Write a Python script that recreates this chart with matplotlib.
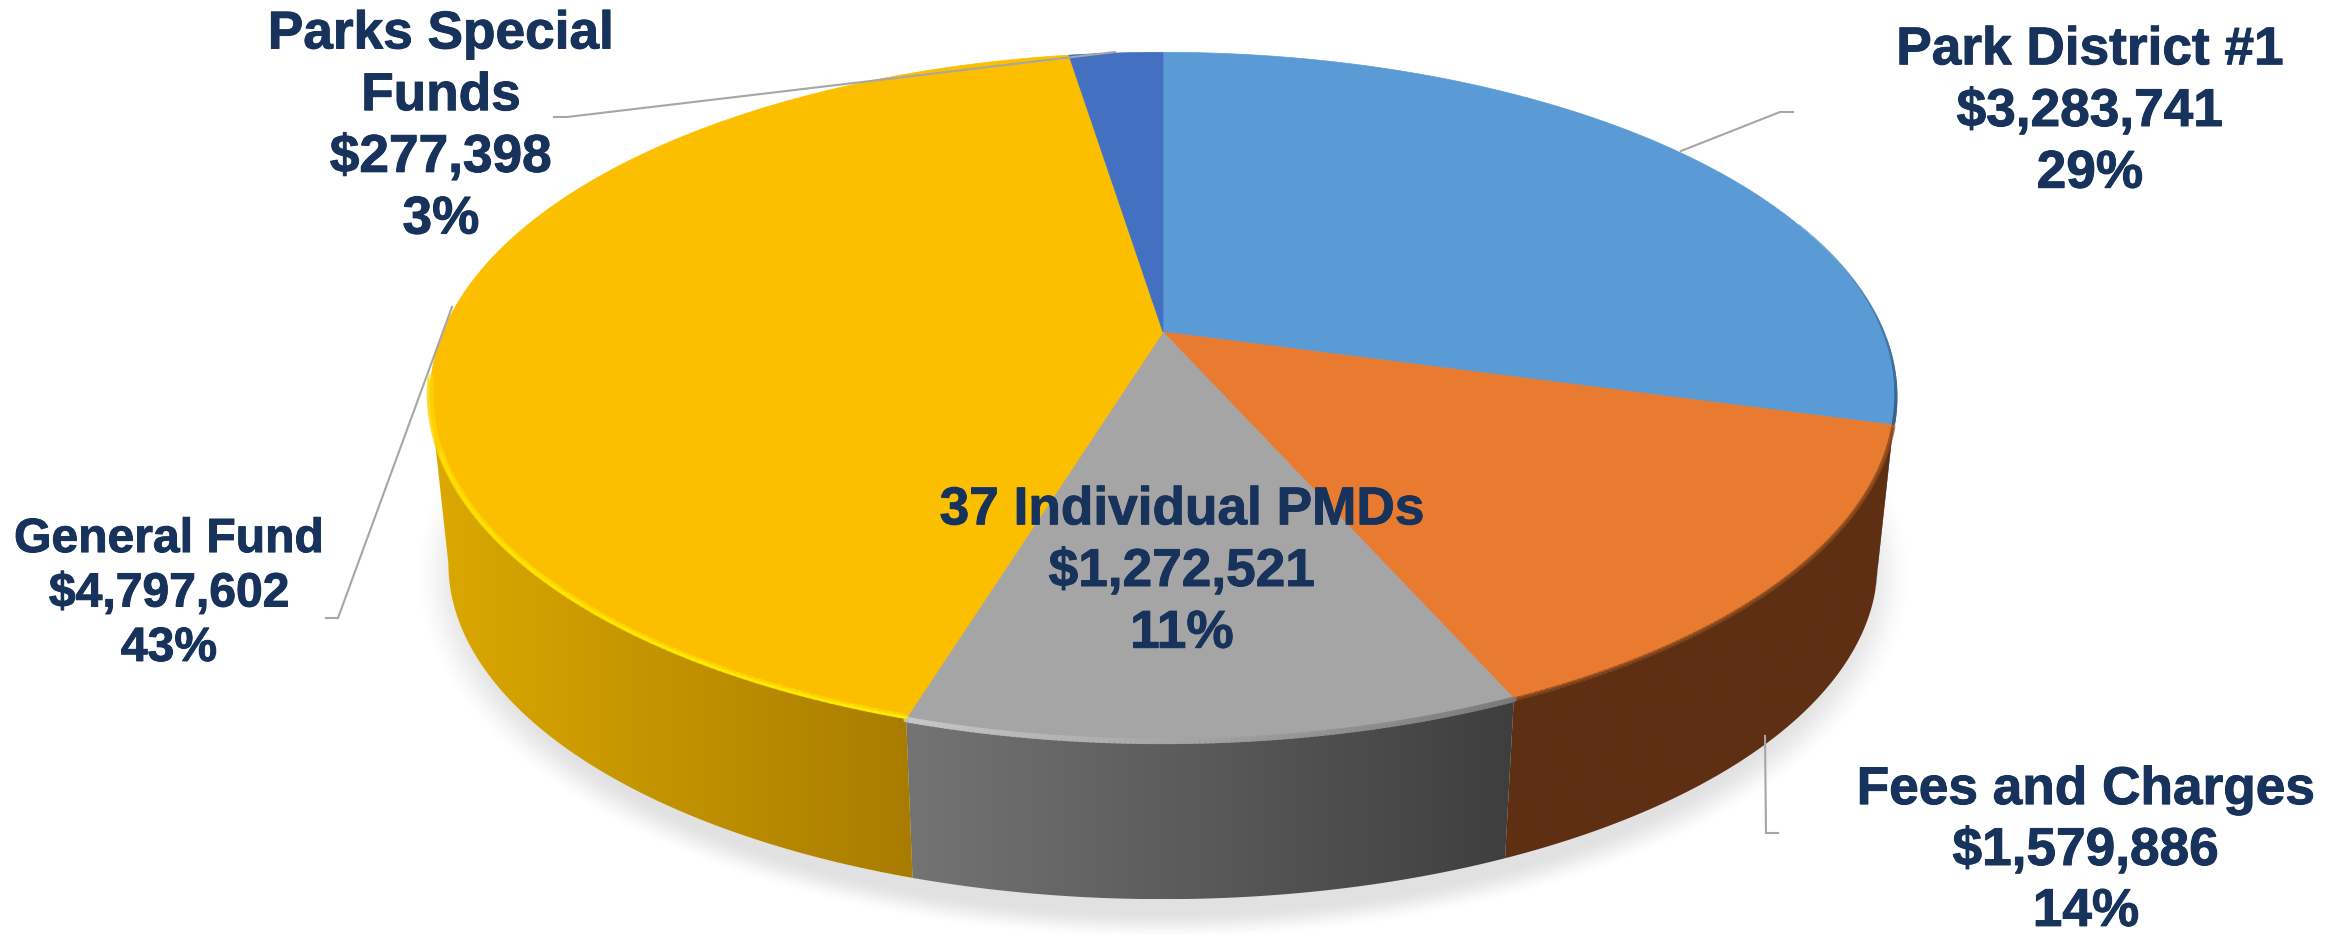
import numpy as np
import matplotlib
matplotlib.use('Agg')
import matplotlib.pyplot as plt
import matplotlib.patheffects as pe
from matplotlib.patches import Polygon
from matplotlib.collections import LineCollection
from matplotlib.colors import to_rgb

# values go clockwise from 12 o'clock
names = ['Park District #1', 'Fees and Charges', '37 Individual PMDs', 'General Fund', 'Parks Special\nFunds']
amounts = [3283741, 1579886, 1272521, 4797602, 277398]
amount_text = ['$3,283,741', '$1,579,886', '$1,272,521', '$4,797,602', '$277,398']
pct_text = ['29%', '14%', '11%', '43%', '3%']
top_colors = ['#5B9BD5', '#E97B30', '#A5A5A5', '#FBBF00', '#4370C0']
wall_left = ['#3F6C98', '#5E2F13', '#747474', '#DCA900', '#2F5597']
wall_right = ['#3F6C98', '#5E2F13', '#3E3E3E', '#A87C00', '#2F5597']

label_pos = [(2090, 112), (2086, 851), (1182, 572), (169, 594), (441, 127)]
label_size = [38.3, 38.3, 38.3, 34.6, 38.3]
label_gap = [1.3, 1.28, 1.3, 1.27, 1.3]
leaders = [
    [(1681, 151), (1780, 112), (1793, 112)],
    [(1765, 736), (1766, 833), (1778, 833)],
    None,
    [(452, 307), (338, 618), (326, 618)],
    [(1115, 52), (567, 117), (554, 117)],
]

navy = '#17335C'
W, H = 2346, 934

# perspective disc, found by fitting the rim of the picture
cx, cy = 1163, 332
ra, rb, persp = 720, 332, 0.187
shrink, cy_low = 0.975, 501


def top_xy(deg):
    t = np.radians(deg)
    d = 1 + persp * np.cos(t)
    return cx + ra * np.sin(t) / d, cy - rb * np.cos(t) / d


def low_xy(deg):
    x, y = top_xy(deg)
    return cx + shrink * (x - cx), cy_low + shrink * (y - cy)


def rim(ax, a, b, c1, c2, lw1, lw2, alpha=1.0, dy=0, z=6):
    deg = np.linspace(a, b, 120)
    x, y = top_xy(deg)
    pts = np.column_stack([x, y + dy])
    segs = np.stack([pts[:-1], pts[1:]], axis=1)
    f = np.linspace(0, 1, len(segs))[:, None]
    cols = (1 - f) * np.array(to_rgb(c1)) + f * np.array(to_rgb(c2))
    cols = np.column_stack([cols, np.full(len(segs), alpha)])
    widths = np.linspace(lw1, lw2, len(segs))
    ax.add_collection(LineCollection(segs, colors=cols, linewidths=widths, capstyle='round', zorder=z))


fig = plt.figure(figsize=(W / 100, H / 100), dpi=100)
ax = fig.add_axes([0, 0, 1, 1])
ax.axis('off')

# soft shadow below the disc
gx, gy = np.meshgrid(np.arange(W), np.arange(H))
r = np.sqrt(((gx - cx) / 752) ** 2 + ((gy - 574) / 366) ** 2)
shade = np.clip((1.0 - r) / 0.08, 0, 1)
shade = shade * shade * (3 - 2 * shade) * 0.12
rgba = np.zeros((H, W, 4))
rgba[..., 3] = shade
ax.imshow(rgba, extent=(0, W, H, 0), aspect='auto', zorder=1, interpolation='bilinear')

edges = np.concatenate([[0], np.cumsum(amounts)]) / np.sum(amounts) * 360
# the wall only shows between the two widest points of the rim
side = np.degrees(np.arccos(-persp))
for i in range(len(amounts)):
    a = max(edges[i], side)
    b = min(edges[i + 1], 360 - side)
    if b <= a:
        continue
    deg = np.linspace(a, b, 100)
    tx, ty = top_xy(deg)
    lx, ly = low_xy(deg)
    wall = np.column_stack([np.r_[tx, lx[::-1]], np.r_[ty, ly[::-1]]])
    xlo, xhi = wall[:, 0].min(), wall[:, 0].max()
    ylo, yhi = wall[:, 1].min(), wall[:, 1].max()
    ramp = np.linspace(0, 1, 256)[None, :, None]
    img = (1 - ramp) * np.array(to_rgb(wall_left[i])) + ramp * np.array(to_rgb(wall_right[i]))
    im = ax.imshow(img, extent=(xlo, xhi, yhi, ylo), aspect='auto', zorder=3)
    patch = Polygon(wall, closed=True, transform=ax.transData, fc='none', ec='none')
    ax.add_patch(patch)
    im.set_clip_path(patch)

for i in range(len(amounts)):
    deg = np.linspace(edges[i], edges[i + 1], 200)
    x, y = top_xy(deg)
    pts = np.column_stack([np.r_[cx, x], np.r_[cy, y]])
    ax.add_patch(Polygon(pts, closed=True, fc=top_colors[i], ec=top_colors[i], lw=0.5, zorder=4))

# bevel along the front rim
rim(ax, 70, edges[1], '#5B9BD5', '#35608C', 0.3, 2.5, 0.9, dy=-1)
rim(ax, edges[1], edges[2], '#8A4A1E', '#8A4A1E', 3, 3, 0.6, dy=1)
rim(ax, edges[2], edges[3], '#7A7A7A', '#C8C8C8', 4, 4, 0.9, dy=1)
rim(ax, edges[3], 262, '#FFE000', '#FFD400', 4, 5, 0.5, dy=-2)
rim(ax, edges[3], 250, '#FFF000', '#FFDD00', 1.5, 2.5, 1.0, dy=-1)

for i in range(len(amounts)):
    if leaders[i] is not None:
        xs, ys = zip(*leaders[i])
        ax.plot(xs, ys, color='#A6A6A6', lw=1.5, zorder=7, solid_joinstyle='miter')
    label = names[i] + '\n' + amount_text[i] + '\n' + pct_text[i]
    t = ax.text(label_pos[i][0], label_pos[i][1], label, ha='center', va='center', ma='center',
                fontsize=label_size[i], fontweight='bold', family='Liberation Sans', color=navy,
                linespacing=label_gap[i], zorder=8)
    t.set_path_effects([pe.withStroke(linewidth=0.7, foreground=navy)])

ax.set_xlim(0, W)
ax.set_ylim(H, 0)
fig.savefig('out.png', dpi=100, facecolor='white')
